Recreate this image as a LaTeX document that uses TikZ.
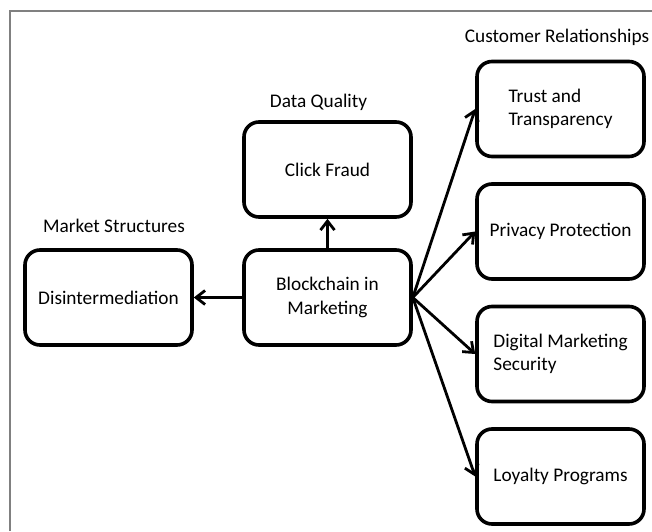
\documentclass[tikz,border=0pt]{standalone}
\usepackage{fontspec}
\setmainfont{Carlito}
\usepackage{tikz}
\usetikzlibrary{arrows.meta}

\begin{document}
\begin{tikzpicture}[->,>={Straight Barb[length=9pt,width=14pt]},auto,node distance=122.5pt,
                    line width=2.8pt]
\tikzstyle{block}=[draw=black,rounded corners=15pt,line width=3.6pt,minimum width=167pt,minimum height=95pt,inner sep=2pt,align=center]
\tikzstyle{heading}=[draw=none,inner sep=0pt]
\tikzset{font=\fontsize{19.3pt}{23.5pt}\selectfont}

        \useasboundingbox (0pt,0pt) rectangle (652pt,531pt);
        \draw[-,gray,line width=1.5pt] (10pt,0pt) -- (10pt,520pt) -- (652pt,520pt);

        \node[block]                                          (bm)   at (327.5pt,233.5pt)     {Blockchain in\\Marketing};

        \node[block, node distance=128pt]                     (cf)   [above of=bm]           {Click Fraud};
        \node[heading, node distance=67.5pt, xshift=-9pt]     (dq)   [above of=cf]           {Data Quality};

        \node[block, node distance=219pt]                     (di)   [left of=bm]            {Disintermediation};
        \node[heading, node distance=72pt, xshift=5.5pt]      (ms)   [above of=di]           {Market Structures};

        \node[block, align=left]                              (tt)   at (560.5pt,422pt)      {Trust and\\Transparency};
        \node[heading, node distance=72pt, xshift=-3.5pt]     (cr)   [above of=tt]           {Customer Relationships};

        \node[block]                                          (pp)   [below of=tt]           {Privacy Protection};
        \node[block, align=left]                              (dm)   [below of=pp]           {Digital Marketing\\Security};
        \node[block]                                          (lp)   [below of=dm]           {Loyalty Programs};

        \path[->]
        (bm.north)   edge node {}          (cf.south)
        (bm.west)    edge node {}          (di.east)
        (bm.east)    edge node {}          (tt.west)
        (bm.east)    edge node {}          (pp.west)
        (bm.east)    edge node {}          (dm.west)
        (bm.east)    edge node {}          (lp.west)
        ; %end path

\end{tikzpicture}
\end{document}
